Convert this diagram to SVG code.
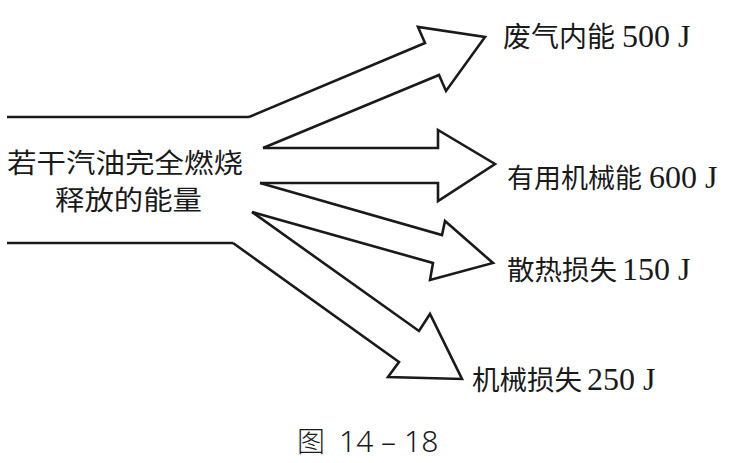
<svg xmlns="http://www.w3.org/2000/svg" width="740" height="463" viewBox="0 0 740 463">
<style>
.ln{fill:none;stroke:#1a1a1a;stroke-width:2.6;stroke-linejoin:miter;stroke-linecap:butt}
.cjk{font-family:"Noto Sans CJK SC","Noto Sans",sans-serif;fill:#1a1a1a}
.num{font-family:"Liberation Serif","Noto Sans CJK SC",serif;fill:#1a1a1a}
</style>
<rect width="740" height="463" fill="#ffffff"/>
<g id="connectors">
<path id="inlet-top" class="ln" d="M7,117 L249,117"/>
<path id="arrow-exhaust" class="ln" d="M249,117 L425,43 L418,27 L485,37 L446,91 L439,75 L263,148"/>
<path id="arrow-useful" class="ln" d="M263,148 L438,148 L438,130 L495,164 L438,201 L438,183 L260,183"/>
<path id="arrow-heat" class="ln" d="M260,183 L442,235 L445,221 L493,263 L430,280 L433,263 L252,212"/>
<path id="arrow-mech" class="ln" d="M252,212 L419,331 L430,314 L462,379 L388,377 L399,362 L233,243"/>
<path id="inlet-bottom" class="ln" d="M233,243 L7,243"/>
</g>
<g id="source">
<text class="cjk" x="7" y="173" font-size="27" textLength="236" lengthAdjust="spacingAndGlyphs">若干汽油完全燃烧</text>
<text class="cjk" x="55" y="210" font-size="27" textLength="147" lengthAdjust="spacingAndGlyphs">释放的能量</text>
</g>
<g id="out-exhaust">
<text x="503" y="47"><tspan class="cjk" font-size="28">废气内能</tspan><tspan class="num" font-size="32" x="622">500 J</tspan></text>
</g>
<g id="out-useful">
<text x="507" y="188"><tspan class="cjk" font-size="27">有用机械能</tspan><tspan class="num" font-size="32" x="649">600 J</tspan></text>
</g>
<g id="out-heat">
<text x="507" y="280"><tspan class="cjk" font-size="27.5">散热损失</tspan><tspan class="num" font-size="32" x="622">150 J</tspan></text>
</g>
<g id="out-mech">
<text x="472" y="390"><tspan class="cjk" font-size="27.5">机械损失</tspan><tspan class="num" font-size="32" x="587">250 J</tspan></text>
</g>
<g id="caption">
<text class="cjk" x="297" y="452" font-size="28" font-weight="300">图</text>
<text y="452" font-family="'Noto Sans','Open Sans',sans-serif" font-size="30" font-weight="300" fill="#1a1a1a"><tspan x="339">14</tspan><tspan x="381">–</tspan><tspan x="404">18</tspan></text>
</g>
</svg>
